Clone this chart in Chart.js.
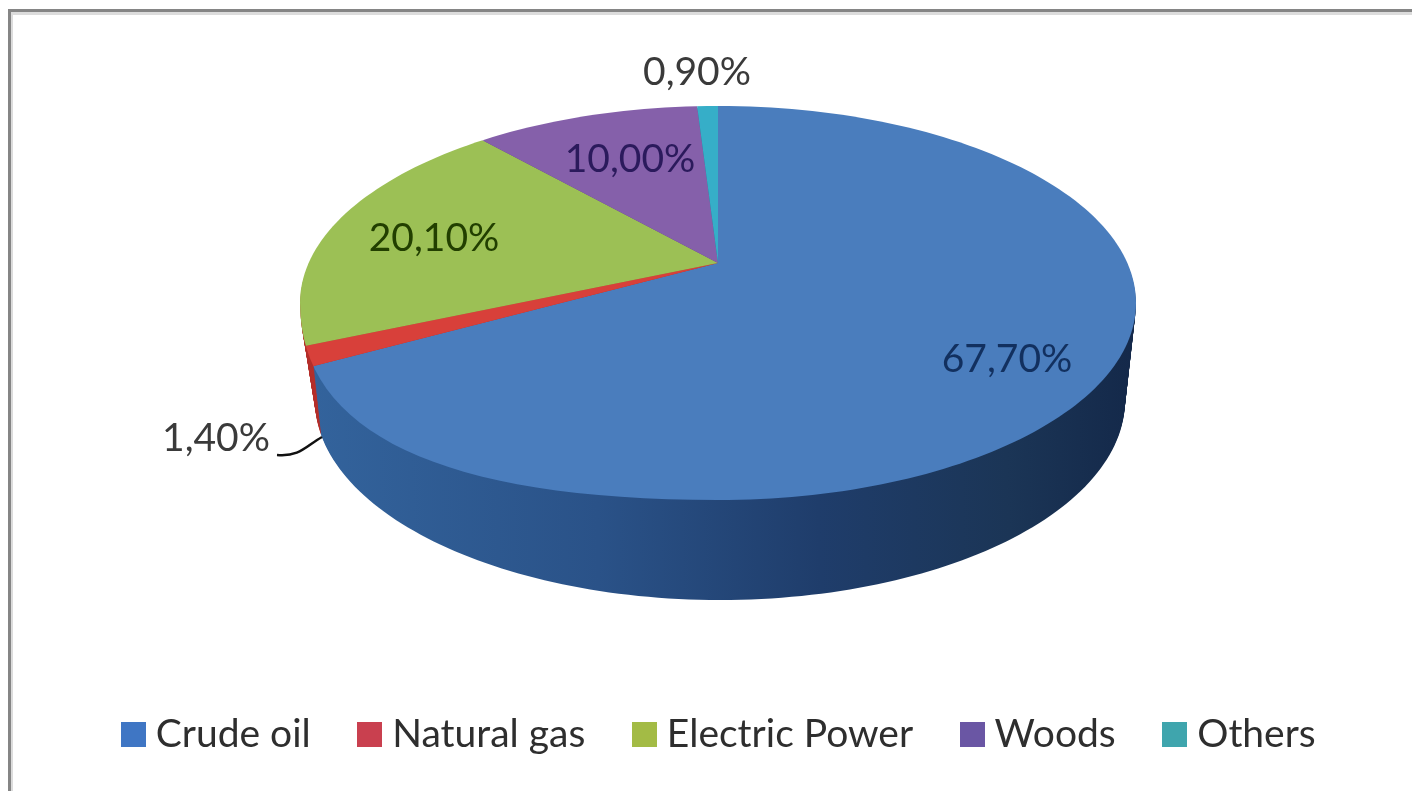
<!DOCTYPE html>
<html><head><meta charset="utf-8">
<style>
html,body{margin:0;padding:0;background:#fff;width:1412px;height:794px;overflow:hidden}
#wrap{position:absolute;left:0;top:0;width:1412px;height:794px}
#frame{position:absolute;left:8px;top:9px;right:-4px;bottom:3px;border-left:3px solid #858585;border-top:3px solid #858585;box-shadow:inset 2px 3px 0 #dcdcdc;pointer-events:none}
canvas{position:absolute;left:0;top:0}
</style>
<script src="https://cdn.jsdelivr.net/npm/chart.js@4"></script>
</head><body>
<div id="wrap"><canvas id="c" width="1412" height="794"></canvas><div id="frame"></div></div>
<script>
const categories = ["Crude oil","Natural gas","Electric Power","Woods","Others"];
const shares = [67.7,1.4,20.1,10.0,0.9];
const valueLabels = ["67,70%","1,40%","20,10%","10,00%","0,90%"];
const topColors = ["#4a7dbd","#d8403a","#9cc055","#8560aa","#36aec8"];
const wallColors = [null,"#b5302c","#b5302c","#5f4380","#1f8296"];
const legendColors = ["#3f76c4","#c9404f","#a3bb45","#6a56a4","#3fa5ad"];
const labelColors = ["#12305f","#3a3a3a","#223f00","#2b1a5c","#3a3a3a"];
const labelPos = [[1007,359],[216,438],[434,238],[630,159],[697,72]];

const APEX = {x:718,y:263};
const OUTLINE_TOP = {cx:718,cy:303,rx:418,ry:197,c:0.66};
const OUTLINE_BOTTOM = {cx:720,cy:400,rx:405,ry:200,c:0.552};
const SCALE_UP = 0.425, SCALE_DOWN = 0.51, REACH = 540, LAYERS = 60, APEX_DROP = 0.72;

function outline(ctx,t){
  const L=(k)=>OUTLINE_TOP[k]+(OUTLINE_BOTTOM[k]-OUTLINE_TOP[k])*t;
  const cx=L('cx'),cy=L('cy'),rx=L('rx'),ry=L('ry'),c=L('c'),e=0.552;
  ctx.beginPath();
  ctx.moveTo(cx-rx,cy);
  ctx.bezierCurveTo(cx-rx,cy-e*ry,cx-e*rx,cy-ry,cx,cy-ry);
  ctx.bezierCurveTo(cx+e*rx,cy-ry,cx+rx,cy-e*ry,cx+rx,cy);
  ctx.bezierCurveTo(cx+rx,cy+e*ry,cx+e*rx,cy+ry,cx,cy+ry);
  ctx.bezierCurveTo(cx-c*rx,cy+ry,cx-rx,cy+c*ry,cx-rx,cy);
  ctx.closePath();
}
function paintArcs(ctx,chart,t,fills){
  const arcs=chart.getDatasetMeta(0).data;
  const a0=arcs[0],k=REACH/a0.outerRadius;
  const ax=APEX.x+(OUTLINE_BOTTOM.cx-OUTLINE_TOP.cx)*t;
  const ay=APEX.y+(OUTLINE_BOTTOM.cy-OUTLINE_TOP.cy)*t*APEX_DROP;
  [[SCALE_UP,-2000,ay],[SCALE_DOWN,ay,2000]].forEach(([s,y0,y1])=>{
    ctx.save();
    outline(ctx,t);ctx.clip();
    ctx.beginPath();ctx.rect(0,y0,1412,y1-y0);ctx.clip();
    ctx.transform(k,0,0,k*s,ax-k*a0.x,ay-k*s*a0.y);
    arcs.forEach((arc,i)=>{
      const saved=arc.options;
      arc.options=Object.assign({},saved,{backgroundColor:fills[i],borderWidth:0});
      arc.draw(ctx);
      arc.options=saved;
    });
    ctx.restore();
  });
}
const pie3d={
  id:'pie3d',
  beforeDatasetsDraw(chart){
    const ctx=chart.ctx;
    const arcs=chart.getDatasetMeta(0).data,a0=arcs[0],k=REACH/a0.outerRadius;
    const toChart=(sx)=>a0.x+(sx-APEX.x)/k;
    const g=ctx.createLinearGradient(toChart(310),0,toChart(1130),0);
    g.addColorStop(0,"#33639c");g.addColorStop(0.35,"#2a5288");g.addColorStop(0.62,"#1f3d6b");g.addColorStop(0.85,"#1b3556");g.addColorStop(1,"#14294a");
    const fills=wallColors.map(c=>c||g);
    for(let i=LAYERS;i>=1;i--) paintArcs(ctx,chart,i/LAYERS,fills);
    paintArcs(ctx,chart,0,topColors);
    return false;
  },
  afterDraw(chart){
    const ctx=chart.ctx;
    ctx.save();
    ctx.strokeStyle="#111";ctx.lineWidth=2.5;
    ctx.beginPath();ctx.moveTo(277,455);ctx.bezierCurveTo(300,457,306,446,322,437);ctx.stroke();
    ctx.font="39px Lato";ctx.textAlign="center";ctx.textBaseline="middle";
    valueLabels.forEach((t,i)=>{ctx.fillStyle=labelColors[i];ctx.fillText(t,labelPos[i][0],labelPos[i][1]);});
    ctx.restore();
  }
};
function swatch(col){
  const c=document.createElement('canvas');c.width=25;c.height=25;
  const x=c.getContext('2d');x.fillStyle=col;x.fillRect(0,0,25,25);return c;
}
new Chart(document.getElementById('c'),{
  type:'pie',
  data:{labels:categories,datasets:[{data:shares,backgroundColor:topColors,borderWidth:0,radius:250}]},
  plugins:[pie3d],
  options:{
    responsive:false,animation:false,
    layout:{padding:{left:34,bottom:30,top:20}},
    plugins:{
      tooltip:{enabled:false},
      legend:{
        position:'bottom',
        labels:{
          font:{family:'Lato',size:39},color:'#2e2e2e',padding:56,boxHeight:24,
          usePointStyle:true,pointStyleWidth:6,
          generateLabels:(ch)=>categories.map((t,i)=>({text:t,fillStyle:legendColors[i],strokeStyle:legendColors[i],lineWidth:0,pointStyle:swatch(legendColors[i]),hidden:false,index:i,datasetIndex:0,fontColor:'#2e2e2e'}))
        }
      }
    }
  }
});
</script>
</body></html>
